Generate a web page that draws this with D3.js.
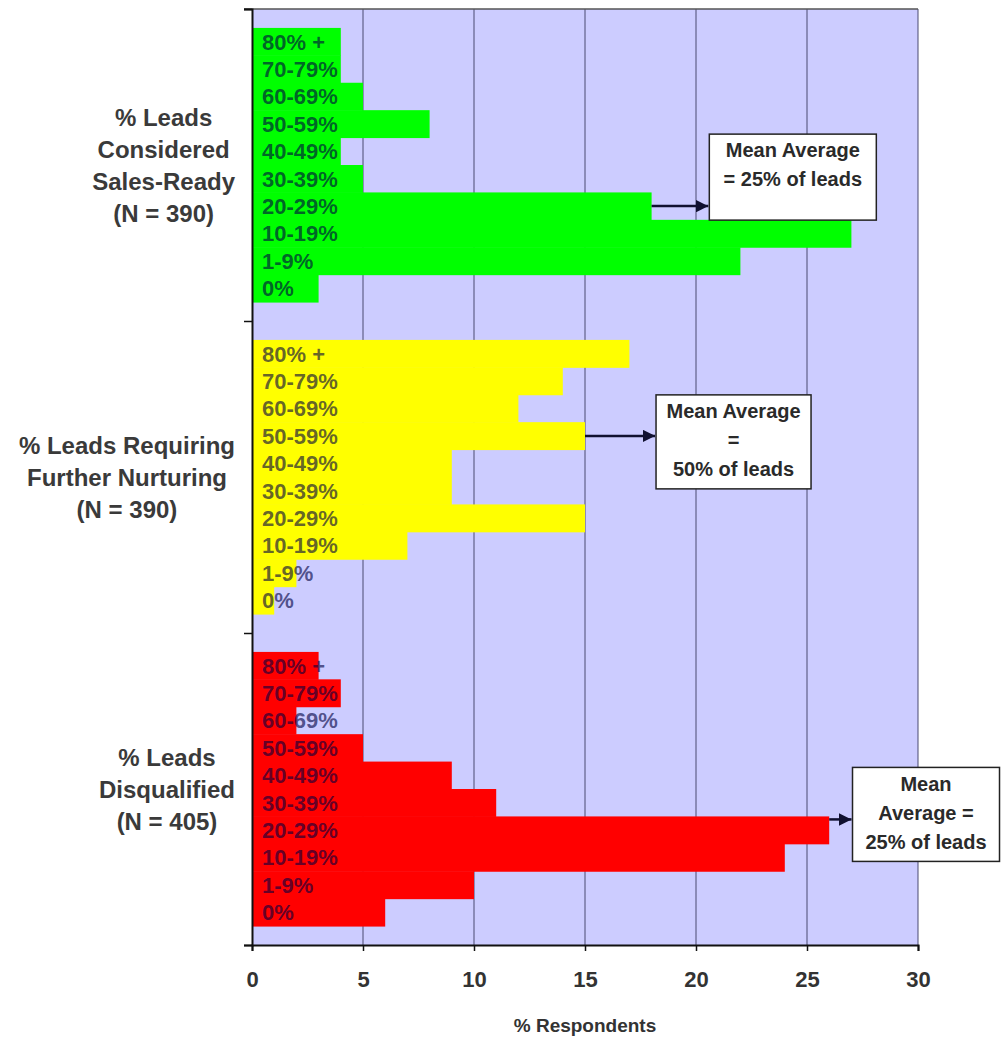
<!DOCTYPE html>
<html>
<head>
<meta charset="utf-8">
<script src="https://cdn.jsdelivr.net/npm/d3@7"></script>
<style>
  body { margin: 0; background: #fff; }
  svg { display: block; font-family: "Liberation Sans", Arial, sans-serif; }
</style>
</head>
<body>
<script>
// lead quality histogram, three stacked groups of horizontal bars

const categories = ["80% +", "70-79%", "60-69%", "50-59%", "40-49%", "30-39%", "20-29%", "10-19%", "1-9%", "0%"];
const groupNames = ["salesReady", "nurturing", "disqualified"];
const groupLabels = [
    ["% Leads", "Considered", "Sales-Ready", "(N = 390)"],
    ["% Leads Requiring", "Further Nurturing", "(N = 390)"],
    ["% Leads", "Disqualified", "(N = 405)"]
];
const salesReady = [4, 4, 5, 8, 4, 5, 18, 27, 22, 3];
const nurturing = [17, 14, 12, 15, 9, 9, 15, 7, 2, 1];
const disqualified = [3, 4, 2, 5, 9, 11, 26, 24, 10, 6];
const barColors = ["#00ff00", "#ffff00", "#ff0000"];
const xTicks = [0, 5, 10, 15, 20, 25, 30];

// mean average call-outs: arrow leaves the bar end, box sits at boxAt (x units)
const callouts = [
    { group: 0, cat: "20-29%", value: 18, boxAt: 20.6, lines: ["Mean Average", "= 25% of leads"], w: 167, h: 86, up: 72 },
    { group: 1, cat: "50-59%", value: 15, boxAt: 18.2, lines: ["Mean Average", "=", "50% of leads"], w: 155, h: 94, up: 41 },
    { group: 2, cat: "20-29%", value: 26, boxAt: 27.05, lines: ["Mean", "Average =", "25% of leads"], w: 147, h: 94, up: 52 }
];

const seriesValues = [salesReady, nurturing, disqualified];

const width = 1003, height = 1039;
const plot = { left: 252, right: 918, top: 9, bottom: 945 };

const svg = d3.select("body").append("svg")
    .attr("width", width)
    .attr("height", height);

const x = d3.scaleLinear().domain([0, 30]).range([plot.left, plot.right]);
const yGroup = d3.scaleBand().domain(groupNames).range([plot.top, plot.bottom]).padding(0);
const yCat = d3.scaleBand().domain(categories).range([0, yGroup.bandwidth()])
    .paddingInner(0).paddingOuter(0.69);

// background
svg.append("rect")
    .attr("x", plot.left).attr("y", plot.top)
    .attr("width", plot.right - plot.left).attr("height", plot.bottom - plot.top)
    .attr("fill", "#ccccff");

// gridlines
svg.append("g").selectAll("line")
    .data(xTicks.slice(1))
    .join("line")
    .attr("x1", d => x(d)).attr("x2", d => x(d))
    .attr("y1", plot.top).attr("y2", plot.bottom)
    .attr("stroke", "#4a4a70").attr("stroke-width", 1);

svg.append("line")
    .attr("x1", plot.left - 8).attr("x2", plot.right)
    .attr("y1", plot.top).attr("y2", plot.top)
    .attr("stroke", "#555").attr("stroke-width", 1.5);

// bars
groupNames.forEach((g, gi) => {
    const gTop = yGroup(g);
    const grp = svg.append("g").attr("transform", `translate(0,${gTop})`);
    const rows = categories.map((c, i) => ({ cat: c, value: seriesValues[gi][i] }));

    grp.selectAll("rect")
        .data(rows)
        .join("rect")
        .attr("x", x(0))
        .attr("y", d => yCat(d.cat))
        .attr("width", d => x(d.value) - x(0))
        .attr("height", yCat.bandwidth() + 0.5)
        .attr("fill", barColors[gi]);

    grp.selectAll("text")
        .data(rows)
        .join("text")
        .attr("x", x(0) + 10)
        .attr("y", d => yCat(d.cat) + yCat.bandwidth() / 2)
        .attr("dy", "0.36em")
        .attr("font-size", 22)
        .attr("font-weight", "bold")
        .attr("fill", "#000040")
        .attr("fill-opacity", 0.62)
        .text(d => d.cat);

    // group label, lines centered, block right-aligned near the axis
    const lines = groupLabels[gi];
    const lineH = 32;
    const cy = gTop + yGroup.bandwidth() / 2;
    const lbl = svg.append("g");
    const texts = lbl.selectAll("text")
        .data(lines)
        .join("text")
        .attr("y", (d, i) => cy + (i - (lines.length - 1) / 2) * lineH)
        .attr("dy", "0.36em")
        .attr("text-anchor", "middle")
        .attr("font-size", 24)
        .attr("font-weight", "bold")
        .attr("fill", "#3a3a3a")
        .text(d => d);
    const maxW = d3.max(texts.nodes(), n => n.getComputedTextLength());
    texts.attr("x", 235 - maxW / 2);
});

// axes
const xAxis = d3.axisBottom(x)
    .tickValues(xTicks)
    .tickFormat(d3.format("d"))
    .tickSize(6)
    .tickPadding(20);

const gx = svg.append("g")
    .attr("transform", `translate(0,${plot.bottom})`)
    .call(xAxis);
gx.select(".domain").attr("stroke", "#111").attr("stroke-width", 2);
gx.selectAll(".tick line").attr("stroke", "#111").attr("stroke-width", 1.5);
gx.selectAll(".tick text")
    .attr("font-size", 22)
    .attr("font-weight", "bold")
    .attr("font-family", "'Liberation Sans', Arial, sans-serif")
    .attr("fill", "#333");

const yBound = d3.scaleLinear().domain([0, 3]).range([plot.top, plot.bottom]);
const gy = svg.append("g")
    .attr("transform", `translate(${plot.left},0)`)
    .call(d3.axisLeft(yBound).tickValues([0, 1, 2, 3]).tickFormat("").tickSize(8));
gy.select(".domain").attr("stroke", "#111").attr("stroke-width", 2);
gy.selectAll(".tick line").attr("stroke", "#111").attr("stroke-width", 1.5);

svg.append("text")
    .attr("x", (plot.left + plot.right) / 2)
    .attr("y", 1025)
    .attr("dy", "0.36em")
    .attr("text-anchor", "middle")
    .attr("font-size", 19)
    .attr("font-weight", "bold")
    .attr("fill", "#333")
    .text("% Respondents");

// call-outs
svg.append("defs").append("marker")
    .attr("id", "arrow")
    .attr("viewBox", "0 0 10 10")
    .attr("refX", 10).attr("refY", 5)
    .attr("markerWidth", 5).attr("markerHeight", 5)
    .attr("orient", "auto")
    .append("path")
    .attr("d", "M0,0L10,5L0,10z")
    .attr("fill", "#101030");

callouts.forEach(c => {
    const ay = yGroup(groupNames[c.group]) + yCat(c.cat) + (c.group === 2 ? 3 : yCat.bandwidth() / 2);
    const bx = x(c.boxAt);
    svg.append("line")
        .attr("x1", x(c.value)).attr("x2", bx - 1)
        .attr("y1", ay).attr("y2", ay)
        .attr("stroke", "#101030").attr("stroke-width", 2.5)
        .attr("marker-end", "url(#arrow)");

    const top = ay - c.up;
    svg.append("rect")
        .attr("x", bx).attr("y", top)
        .attr("width", c.w).attr("height", c.h)
        .attr("fill", "#fff")
        .attr("stroke", "#222").attr("stroke-width", 1.5);

    svg.append("g").selectAll("text")
        .data(c.lines)
        .join("text")
        .attr("x", bx + c.w / 2)
        .attr("y", (d, i) => top + 16 + i * 29)
        .attr("dy", "0.36em")
        .attr("text-anchor", "middle")
        .attr("font-size", 20)
        .attr("font-weight", "bold")
        .attr("fill", "#2a2a2a")
        .text(d => d);
});
</script>
</body>
</html>
